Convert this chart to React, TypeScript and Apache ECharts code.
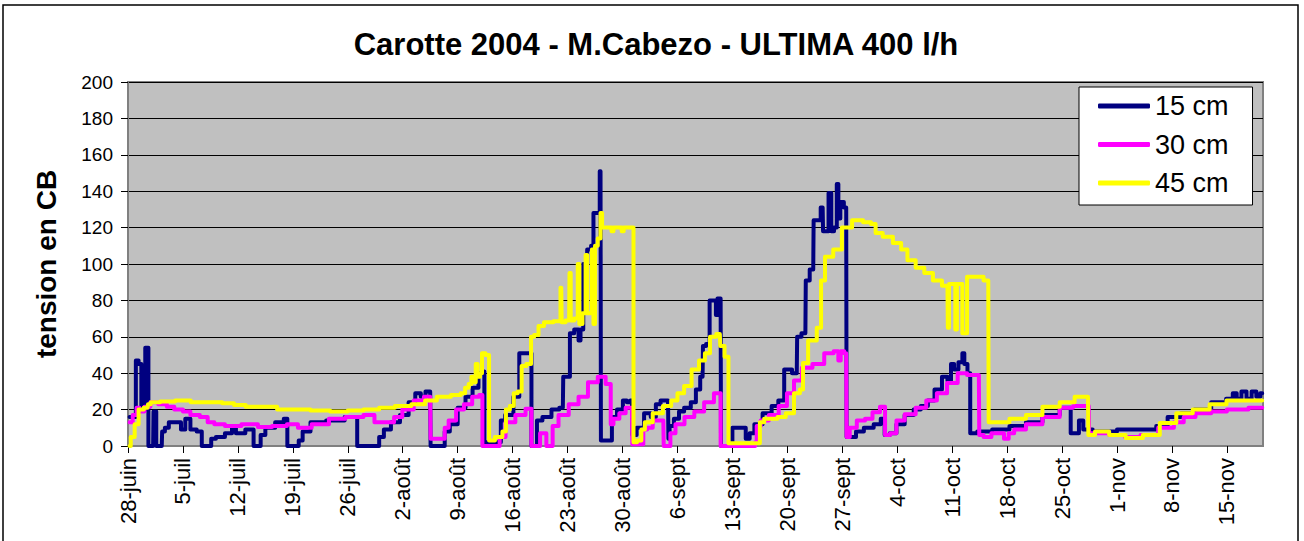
import React, { useEffect, useRef } from 'react';
import * as echarts from 'echarts';

// x = days since 28-juin 2004, y = tension (cb)
const tickDays = [0, 7, 14, 21, 28, 35, 42, 49, 56, 63, 70, 77, 84, 91, 98, 105, 112, 119, 126, 133, 140];
const tickLabels = ['28-juin', '5-juil', '12-juil', '19-juil', '26-juil', '2-août', '9-août', '16-août', '23-août', '30-août', '6-sept', '13-sept', '20-sept', '27-sept', '4-oct', '11-oct', '18-oct', '25-oct', '1-nov', '8-nov', '15-nov'];
const seriesNames = ['15 cm', '30 cm', '45 cm'];

const s15 = [[0.2,16],[1.0,16],[1.0,47],[1.7,45],[1.7,20],[2.2,20],[2.2,54],[2.6,54],[2.6,0],[3.2,0],[3.3,19],[3.6,19],[3.6,0],[4.3,0],[4.4,8],[5.0,10],[5.4,13],[6.5,13],[7.0,9],[7.6,15],[8.3,9],[9.2,8],[9.6,0],[10.5,0],[10.7,4],[11.7,5],[13.0,7],[13.5,11],[14.0,7],[15.9,9],[16.1,0],[16.8,0],[17.0,6],[18.0,10],[19.5,13],[20.2,15],[20.4,0],[21.5,0],[22.0,3],[22.5,8],[24.0,13],[26.5,14],[28.7,16],[29.2,16],[29.2,0],[31.8,0],[32.2,5],[33.0,9],[34.0,13],[35.3,17],[36.2,24],[37.0,29],[37.6,27],[38.2,30],[38.5,30],[38.6,0],[40.2,0],[40.5,8],[41.5,12],[42.5,21],[43.5,27],[44.3,32],[45.0,40],[45.3,41],[45.5,2],[47.4,2],[47.6,14],[48.5,17],[49.7,27],[50.0,51],[51.3,51],[51.5,0],[52.0,0],[52.2,14],[53.4,16],[54.5,20],[55.4,21],[55.5,38],[56.2,38],[56.4,62],[57.3,64],[57.5,58],[57.8,64],[58.2,100],[58.8,108],[59.2,110],[59.4,128],[60.0,128],[60.2,151],[60.3,3],[61.5,3],[61.8,16],[62.8,20],[63.3,25],[63.8,24],[64.2,25],[64.3,6],[65.3,10],[66.2,18],[67.0,16],[67.5,23],[68.2,25],[68.8,25],[68.9,4],[69.1,11],[70.0,15],[70.4,19],[71.3,21],[72.1,24],[72.6,31],[73.2,38],[73.3,55],[74.0,56],[74.2,80],[74.8,80],[75.0,72],[75.2,81],[75.5,81],[75.6,0],[76.8,0],[77.2,10],[78.4,10],[79.0,4],[79.4,7],[80.2,12],[81.5,18],[82.5,22],[83.2,25],[84.0,42],[85.2,40],[85.3,60],[86.3,62],[86.4,91],[87.3,97],[87.4,124],[88.0,124],[88.5,131],[88.6,118],[89.0,118],[89.5,139],[89.7,118],[90.2,120],[90.4,144],[90.6,125],[90.9,134],[91.5,131],[91.6,5],[92.5,5],[93.0,8],[94.5,10],[95.5,12],[96.3,15],[96.5,6],[97.6,7],[98.2,12],[99.7,17],[100.5,20],[101.5,22],[102.3,25],[103.2,31],[104.2,38],[104.6,36],[105.1,45],[105.4,42],[106.2,46],[106.4,51],[106.7,45],[107.2,40],[107.4,7],[109.0,8],[111.2,9],[113.4,11],[115.4,13],[117.6,17],[119.8,21],[120.0,21],[120.2,7],[121.0,7],[121.3,14],[121.6,14],[121.8,9],[124.0,8],[128.0,9],[130.4,9],[131.6,11],[133.3,16],[135.0,18],[136.7,20],[139.3,24],[140.5,26],[141.0,29],[141.5,26],[142.2,30],[142.8,26],[143.5,30],[144.0,27],[144.5,29]];

const s30 = [[0.2,13],[1.0,17],[1.2,21],[1.7,19],[2.5,21.6],[3.2,24],[4.5,23],[5.4,21.6],[6.4,20],[7.6,19],[8.3,17],[10.0,16],[10.3,13],[11.7,12],[13.0,11],[15.9,12],[17.2,10.5],[19.5,11],[21.0,12],[22.3,10],[24.5,12],[26.7,15],[28.7,16],[31.3,17],[31.5,13],[33.5,13],[34.3,16],[35.6,20],[37.2,25],[38.2,27],[38.5,27],[38.6,4],[40.2,4],[40.5,10],[41.2,14],[42.4,20],[43.2,23],[44.5,27],[45.0,28],[45.3,0],[47.2,0],[47.5,5],[48.7,13],[50.0,17],[51.3,20.5],[51.5,0],[52.4,0],[52.6,7],[53.2,7],[53.4,0],[54.0,0],[54.2,11],[55.5,17],[56.8,23],[58.0,27],[59.2,35],[60.5,38],[61.2,34],[61.5,34],[61.5,12],[62.2,15],[63.0,18],[63.8,21],[64.2,21],[64.3,1],[65.5,1],[65.8,9],[66.5,10],[67.2,14],[68.2,14],[68.3,0],[69.0,0],[69.2,7],[70.3,12],[71.5,16],[72.8,19],[74.0,24],[75.3,29],[75.5,29],[75.5,0],[79.8,0],[80.0,2],[80.2,11],[81.0,14],[82.3,17],[83.5,22],[84.4,29],[85.3,36],[86.4,43],[88.0,45],[89.4,51],[90.4,52],[90.6,47],[91.0,52],[91.5,51],[91.6,5],[92.3,10],[93.4,14],[94.4,15],[95.3,18.5],[96.3,21.5],[96.6,6],[97.6,7],[98.2,14],[99.7,17.5],[101.0,21],[102.4,25],[103.7,29],[105.0,34.6],[106.4,40],[107.4,39],[108.4,39],[108.5,6],[109.5,5],[110.5,7],[111.2,7],[112.0,4],[112.4,7],[113.4,9],[115.4,12],[117.6,16],[119.8,21],[121.0,22],[122.4,22],[122.5,7],[124.0,7],[126.0,6],[128.0,5],[130.0,6],[132.5,10],[134.0,13],[135.0,16],[137.0,18],[139.0,19],[141.0,20],[144.5,21]];

const s45 = [[0.2,0],[0.5,5],[1.2,12],[1.5,20],[2.5,21],[2.6,23],[3.2,24],[5.0,24.5],[7.0,25],[9.0,24],[11.0,24],[13.0,23.5],[14.0,22.5],[16.0,21.5],[18.0,21.5],[20.0,20],[22.0,20],[24.5,19.5],[27.0,19],[29.0,19.5],[31.0,20],[33.0,21],[35.0,22],[37.2,23],[38.5,25],[40.2,27],[42.1,28],[42.7,29],[43.2,32],[43.6,34],[43.9,38],[44.2,35],[44.4,45],[44.7,38],[45.0,40],[45.2,51],[45.9,50],[46.1,3],[47.4,5],[48.0,8],[48.3,20],[49.0,22],[49.3,29],[50.0,30],[50.3,44],[51.2,45],[51.5,60],[52.0,61],[52.6,66],[53.4,68],[55.0,68.5],[55.2,87],[55.3,68],[56.2,69],[56.3,95],[56.5,69],[57.2,70],[57.4,100],[57.6,67],[58.2,73],[58.4,105],[58.6,73],[59.0,73],[59.2,108],[59.4,67],[59.6,110],[60.1,114],[60.3,128],[60.5,120],[61.5,120],[61.7,118],[62.0,120],[62.8,120],[63.0,118],[63.3,120],[64.4,120],[64.4,2],[65.3,3],[65.5,9],[66.2,13],[67.5,18],[68.8,22],[69.6,25],[70.4,29],[71.3,33],[72.3,42],[73.2,47],[73.8,51],[74.5,60],[75.4,61.5],[75.5,55],[76.5,49],[76.5,1.5],[80.4,1.5],[80.6,13],[81.5,15],[82.3,15],[83.2,16],[84.4,18],[85.3,29],[85.9,31],[86.1,45.6],[87.2,58],[88.3,65],[88.3,91],[89.3,104],[90.4,108],[91.5,120],[93.0,124],[94.3,123],[95.0,122],[95.5,117],[96.8,115],[98.1,111.5],[98.9,108],[99.7,102],[101.0,98],[101.9,95],[103.2,91],[104.2,88],[104.4,88],[104.5,65],[104.7,89],[105.3,89],[105.5,64],[105.7,89],[106.2,89],[106.4,62],[107.4,93],[108.4,93],[109.6,91],[109.7,13],[111.2,13],[113.4,15],[115.4,17],[117.6,21.5],[119.8,24],[121.4,27],[122.3,27],[122.4,6],[124.0,8],[126.0,6],[128.2,4.4],[130.4,6],[132.5,12.6],[134.6,18],[136.7,20],[138.9,23],[141.0,25],[144.5,25]];

const FONT = '"Liberation Sans", Arial, sans-serif';

export default function App() {
  const ref = useRef<HTMLDivElement>(null);
  useEffect(() => {
    document.body.style.margin = '0';
    const chart = echarts.init(ref.current as HTMLDivElement, null, { renderer: 'svg' });
    const lineSeries = (name: string, data: number[][], color: string) => ({
      name,
      type: 'line',
      data,
      showSymbol: false,
      symbol: 'none',
      smooth: false,
      step: 'middle',
      color,
      lineStyle: { color, width: 4, cap: 'round', join: 'round' },
      z: 3,
    });
    chart.setOption({
      animation: false,
      backgroundColor: '#ffffff',
      textStyle: { fontFamily: FONT },
      grid: {
        left: 128, right: 41, top: 82, bottom: 95,
        show: true, backgroundColor: '#C0C0C0', borderColor: '#808080', borderWidth: 2,
      },
      legend: {
        orient: 'vertical',
        left: 1079, top: 87,
        data: seriesNames,
        icon: 'roundRect',
        itemWidth: 52, itemHeight: 5,
        itemGap: 10.5,
        padding: [5, 24, 8, 19],
        backgroundColor: '#ffffff',
        borderColor: '#000000', borderWidth: 1,
        textStyle: { fontSize: 27, color: '#000', fontFamily: FONT, lineHeight: 28 },
      },
      xAxis: {
        type: 'value', min: 0, max: 144.6,
        splitLine: { show: false },
        axisLine: { show: true, onZero: false, lineStyle: { color: '#808080', width: 2 } },
        axisTick: { show: true, length: 7, customValues: tickDays, lineStyle: { color: '#000' } },
        axisLabel: {
          customValues: tickDays, rotate: 90, margin: 12, fontSize: 22, color: '#000', fontFamily: FONT,
          formatter: (v: number) => { const i = tickDays.indexOf(Math.round(v)); return i >= 0 ? tickLabels[i] : ''; },
        },
      },
      yAxis: {
        type: 'value', min: 0, max: 200, interval: 20,
        splitLine: { show: true, lineStyle: { color: '#000', width: 1 } },
        axisLine: { show: true, lineStyle: { color: '#808080', width: 2 } },
        axisTick: { show: true, length: 7, lineStyle: { color: '#000' } },
        axisLabel: { margin: 15, fontSize: 19, color: '#000', fontFamily: FONT },
      },
      graphic: [
        { type: 'rect', shape: { x: 3, y: 5, width: 1295, height: 600 }, style: { fill: 'none', stroke: '#000', lineWidth: 1.5 }, silent: true, z: -10 },
        { type: 'text', x: 656, y: 44, style: { text: 'Carotte 2004 - M.Cabezo - ULTIMA 400 l/h', font: 'bold 31px ' + FONT, fill: '#000', textAlign: 'center', textVerticalAlign: 'middle' } },
        { type: 'text', x: 46, y: 264, rotation: Math.PI / 2, style: { text: 'tension en CB', font: 'bold 28px ' + FONT, fill: '#000', textAlign: 'center', textVerticalAlign: 'middle' } },
      ],
      series: [
        lineSeries(seriesNames[0], s15, '#000080'),
        lineSeries(seriesNames[1], s30, '#FF00FF'),
        lineSeries(seriesNames[2], s45, '#FFFF00'),
      ],
    });
    return () => chart.dispose();
  }, []);
  return <div ref={ref} style={{ width: 1304, height: 541 }} />;
}
